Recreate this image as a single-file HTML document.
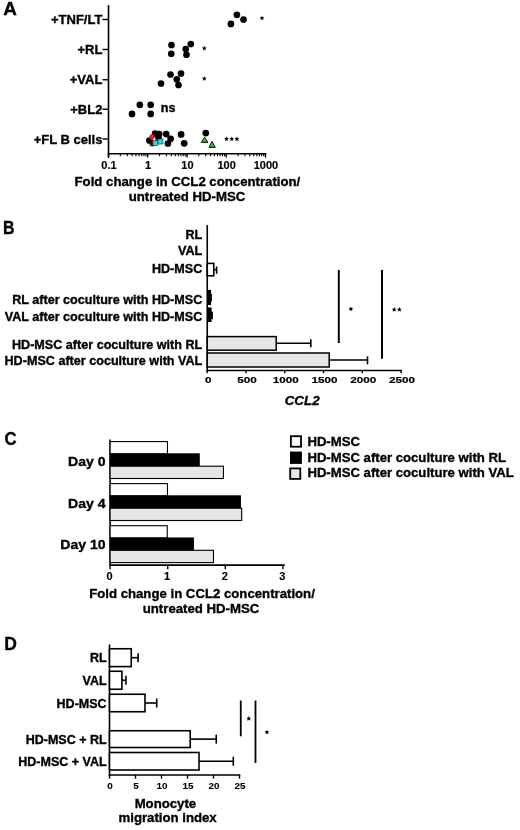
<!DOCTYPE html>
<html><head><meta charset="utf-8"><style>
html,body{margin:0;padding:0;background:#fff;width:520px;height:830px;overflow:hidden}
svg{display:block;will-change:transform;filter:blur(0.35px)}
text{font-family:"Liberation Sans",sans-serif;fill:#000;stroke:#000;stroke-width:0.35px;paint-order:stroke}
</style></head><body>
<svg width="520" height="830" viewBox="0 0 520 830">
<rect width="520" height="830" fill="#fff"/>
<text transform="translate(3.3,14.6) scale(1.02,1)" x="0" y="0" font-size="18.5" text-anchor="start" font-weight="bold" font-style="normal" >A</text>
<line x1="108.5" y1="5" x2="108.5" y2="157.6" stroke="#000" stroke-width="1.6"/>
<line x1="107.7" y1="153.75" x2="266.3" y2="153.75" stroke="#000" stroke-width="1.6"/>
<line x1="102.5" y1="19.5" x2="108.5" y2="19.5" stroke="#000" stroke-width="1.4"/>
<text x="102.4" y="24.1" font-size="13" text-anchor="end" font-weight="bold" font-style="normal" >+TNF/LT</text>
<line x1="102.5" y1="49.5" x2="108.5" y2="49.5" stroke="#000" stroke-width="1.4"/>
<text x="102.4" y="54.1" font-size="13" text-anchor="end" font-weight="bold" font-style="normal" >+RL</text>
<line x1="102.5" y1="79.75" x2="108.5" y2="79.75" stroke="#000" stroke-width="1.4"/>
<text x="102.4" y="84.35" font-size="13" text-anchor="end" font-weight="bold" font-style="normal" >+VAL</text>
<line x1="102.5" y1="109.25" x2="108.5" y2="109.25" stroke="#000" stroke-width="1.4"/>
<text x="102.4" y="113.85" font-size="13" text-anchor="end" font-weight="bold" font-style="normal" >+BL2</text>
<line x1="102.5" y1="139" x2="108.5" y2="139" stroke="#000" stroke-width="1.4"/>
<text x="102.4" y="143.6" font-size="13" text-anchor="end" font-weight="bold" font-style="normal" >+FL B cells</text>
<line x1="108.5" y1="153.75" x2="108.5" y2="157.6" stroke="#000" stroke-width="1.4"/>
<line x1="147.75" y1="153.75" x2="147.75" y2="157.6" stroke="#000" stroke-width="1.4"/>
<line x1="187.0" y1="153.75" x2="187.0" y2="157.6" stroke="#000" stroke-width="1.4"/>
<line x1="226.25" y1="153.75" x2="226.25" y2="157.6" stroke="#000" stroke-width="1.4"/>
<line x1="265.5" y1="153.75" x2="265.5" y2="157.6" stroke="#000" stroke-width="1.4"/>
<line x1="120.31542732981126" y1="153.75" x2="120.31542732981126" y2="156.3" stroke="#000" stroke-width="1.1"/>
<line x1="127.22700924774675" y1="153.75" x2="127.22700924774675" y2="156.3" stroke="#000" stroke-width="1.1"/>
<line x1="132.1308546596225" y1="153.75" x2="132.1308546596225" y2="156.3" stroke="#000" stroke-width="1.1"/>
<line x1="135.93457267018874" y1="153.75" x2="135.93457267018874" y2="156.3" stroke="#000" stroke-width="1.1"/>
<line x1="139.04243657755802" y1="153.75" x2="139.04243657755802" y2="156.3" stroke="#000" stroke-width="1.1"/>
<line x1="141.6700980705596" y1="153.75" x2="141.6700980705596" y2="156.3" stroke="#000" stroke-width="1.1"/>
<line x1="143.94628198943377" y1="153.75" x2="143.94628198943377" y2="156.3" stroke="#000" stroke-width="1.1"/>
<line x1="145.9540184954935" y1="153.75" x2="145.9540184954935" y2="156.3" stroke="#000" stroke-width="1.1"/>
<line x1="159.56542732981126" y1="153.75" x2="159.56542732981126" y2="156.3" stroke="#000" stroke-width="1.1"/>
<line x1="166.47700924774676" y1="153.75" x2="166.47700924774676" y2="156.3" stroke="#000" stroke-width="1.1"/>
<line x1="171.3808546596225" y1="153.75" x2="171.3808546596225" y2="156.3" stroke="#000" stroke-width="1.1"/>
<line x1="175.18457267018874" y1="153.75" x2="175.18457267018874" y2="156.3" stroke="#000" stroke-width="1.1"/>
<line x1="178.29243657755802" y1="153.75" x2="178.29243657755802" y2="156.3" stroke="#000" stroke-width="1.1"/>
<line x1="180.9200980705596" y1="153.75" x2="180.9200980705596" y2="156.3" stroke="#000" stroke-width="1.1"/>
<line x1="183.19628198943377" y1="153.75" x2="183.19628198943377" y2="156.3" stroke="#000" stroke-width="1.1"/>
<line x1="185.2040184954935" y1="153.75" x2="185.2040184954935" y2="156.3" stroke="#000" stroke-width="1.1"/>
<line x1="198.81542732981126" y1="153.75" x2="198.81542732981126" y2="156.3" stroke="#000" stroke-width="1.1"/>
<line x1="205.72700924774676" y1="153.75" x2="205.72700924774676" y2="156.3" stroke="#000" stroke-width="1.1"/>
<line x1="210.6308546596225" y1="153.75" x2="210.6308546596225" y2="156.3" stroke="#000" stroke-width="1.1"/>
<line x1="214.43457267018874" y1="153.75" x2="214.43457267018874" y2="156.3" stroke="#000" stroke-width="1.1"/>
<line x1="217.54243657755802" y1="153.75" x2="217.54243657755802" y2="156.3" stroke="#000" stroke-width="1.1"/>
<line x1="220.1700980705596" y1="153.75" x2="220.1700980705596" y2="156.3" stroke="#000" stroke-width="1.1"/>
<line x1="222.4462819894338" y1="153.75" x2="222.4462819894338" y2="156.3" stroke="#000" stroke-width="1.1"/>
<line x1="224.4540184954935" y1="153.75" x2="224.4540184954935" y2="156.3" stroke="#000" stroke-width="1.1"/>
<line x1="238.06542732981126" y1="153.75" x2="238.06542732981126" y2="156.3" stroke="#000" stroke-width="1.1"/>
<line x1="244.97700924774676" y1="153.75" x2="244.97700924774676" y2="156.3" stroke="#000" stroke-width="1.1"/>
<line x1="249.8808546596225" y1="153.75" x2="249.8808546596225" y2="156.3" stroke="#000" stroke-width="1.1"/>
<line x1="253.68457267018874" y1="153.75" x2="253.68457267018874" y2="156.3" stroke="#000" stroke-width="1.1"/>
<line x1="256.792436577558" y1="153.75" x2="256.792436577558" y2="156.3" stroke="#000" stroke-width="1.1"/>
<line x1="259.42009807055956" y1="153.75" x2="259.42009807055956" y2="156.3" stroke="#000" stroke-width="1.1"/>
<line x1="261.6962819894338" y1="153.75" x2="261.6962819894338" y2="156.3" stroke="#000" stroke-width="1.1"/>
<line x1="263.70401849549353" y1="153.75" x2="263.70401849549353" y2="156.3" stroke="#000" stroke-width="1.1"/>
<text transform="translate(108.9,169.3) scale(1.1,1)" x="0" y="0" font-size="10" text-anchor="middle" font-weight="bold" font-style="normal" style="stroke-width:0.15px">0.1</text>
<text transform="translate(148.15,169.3) scale(1.1,1)" x="0" y="0" font-size="10" text-anchor="middle" font-weight="bold" font-style="normal" style="stroke-width:0.15px">1</text>
<text transform="translate(187.4,169.3) scale(1.1,1)" x="0" y="0" font-size="10" text-anchor="middle" font-weight="bold" font-style="normal" style="stroke-width:0.15px">10</text>
<text transform="translate(226.65,169.3) scale(1.1,1)" x="0" y="0" font-size="10" text-anchor="middle" font-weight="bold" font-style="normal" style="stroke-width:0.15px">100</text>
<text transform="translate(265.9,169.3) scale(1.1,1)" x="0" y="0" font-size="10" text-anchor="middle" font-weight="bold" font-style="normal" style="stroke-width:0.15px">1000</text>
<text x="187.4" y="185.9" font-size="13.2" text-anchor="middle" font-weight="bold" font-style="normal" >Fold change in CCL2 concentration/</text>
<text x="187.0" y="200.9" font-size="13.2" text-anchor="middle" font-weight="bold" font-style="normal" >untreated HD-MSC</text>
<circle cx="230.9" cy="23.9" r="3.35" fill="#000"/>
<circle cx="236.9" cy="14.8" r="3.35" fill="#000"/>
<circle cx="243.5" cy="19.5" r="3.35" fill="#000"/>
<circle cx="171.5" cy="45" r="3.35" fill="#000"/>
<circle cx="171.25" cy="53.75" r="3.35" fill="#000"/>
<circle cx="185.75" cy="49" r="3.35" fill="#000"/>
<circle cx="186.5" cy="54.75" r="3.35" fill="#000"/>
<circle cx="190.75" cy="44" r="3.35" fill="#000"/>
<circle cx="170.5" cy="74.5" r="3.35" fill="#000"/>
<circle cx="181" cy="73.5" r="3.35" fill="#000"/>
<circle cx="176.75" cy="79.25" r="3.35" fill="#000"/>
<circle cx="161" cy="83.5" r="3.35" fill="#000"/>
<circle cx="178.5" cy="85" r="3.35" fill="#000"/>
<circle cx="132.0" cy="113.9" r="3.35" fill="#000"/>
<circle cx="139.8" cy="104.8" r="3.35" fill="#000"/>
<circle cx="150.7" cy="104.8" r="3.35" fill="#000"/>
<circle cx="150.7" cy="113.9" r="3.35" fill="#000"/>
<circle cx="155.1" cy="133.7" r="3.35" fill="#000"/>
<circle cx="159.15" cy="134.1" r="3.35" fill="#000"/>
<circle cx="158.5" cy="137.8" r="3.35" fill="#000"/>
<circle cx="149.4" cy="140.5" r="3.35" fill="#000"/>
<circle cx="166.2" cy="134.1" r="3.35" fill="#000"/>
<circle cx="170.6" cy="138.8" r="3.35" fill="#000"/>
<circle cx="167.9" cy="143.5" r="3.35" fill="#000"/>
<circle cx="181.1" cy="134.4" r="3.35" fill="#000"/>
<circle cx="184.2" cy="143.3" r="3.35" fill="#000"/>
<circle cx="205.8" cy="133.1" r="3.35" fill="#000"/>
<circle cx="151.9" cy="137.0" r="2.7" fill="#e0202a"/>
<circle cx="152.4" cy="143.5" r="3.0" fill="#300810"/>
<rect x="152.9" y="140.3" width="5" height="5" fill="#30d8d0" stroke="#0a3a3a" stroke-width="0.6"/>
<rect x="158.0" y="139.0" width="5" height="5" fill="#30d8d0" stroke="#0a3a3a" stroke-width="0.6"/>
<polygon points="204.6,137.2 201.3,142.4 208,142.4" fill="#22c43a" stroke="#000" stroke-width="0.9"/>
<polygon points="212,141.4 209,147.4 215.3,147.4" fill="#22c43a" stroke="#000" stroke-width="0.9"/>
<polygon points="262.00,15.65 262.68,17.27 264.43,17.41 263.09,18.56 263.50,20.26 262.00,19.35 260.50,20.26 260.91,18.56 259.57,17.41 261.32,17.27" fill="#000"/>
<polygon points="204.30,45.85 204.98,47.47 206.73,47.61 205.39,48.76 205.80,50.46 204.30,49.55 202.80,50.46 203.21,48.76 201.87,47.61 203.62,47.47" fill="#000"/>
<polygon points="204.30,76.05 204.98,77.67 206.73,77.81 205.39,78.96 205.80,80.66 204.30,79.75 202.80,80.66 203.21,78.96 201.87,77.81 203.62,77.67" fill="#000"/>
<polygon points="226.50,136.45 227.18,138.07 228.93,138.21 227.59,139.36 228.00,141.06 226.50,140.15 225.00,141.06 225.41,139.36 224.07,138.21 225.82,138.07" fill="#000"/>
<polygon points="231.70,136.45 232.38,138.07 234.13,138.21 232.79,139.36 233.20,141.06 231.70,140.15 230.20,141.06 230.61,139.36 229.27,138.21 231.02,138.07" fill="#000"/>
<polygon points="236.90,136.45 237.58,138.07 239.33,138.21 237.99,139.36 238.40,141.06 236.90,140.15 235.40,141.06 235.81,139.36 234.47,138.21 236.22,138.07" fill="#000"/>
<text x="160.8" y="111.9" font-size="12.6" text-anchor="start" font-weight="bold" font-style="normal" >ns</text>
<text transform="translate(2.9,233.7) scale(0.88,1)" x="0" y="0" font-size="18" text-anchor="start" font-weight="bold" font-style="normal" >B</text>
<line x1="207.25" y1="225" x2="207.25" y2="371.3" stroke="#000" stroke-width="1.6"/>
<line x1="206.45" y1="370.5" x2="402.05" y2="370.5" stroke="#000" stroke-width="1.6"/>
<text x="202.3" y="239.3" font-size="12.6" text-anchor="end" font-weight="bold" font-style="normal" >RL</text>
<text x="202.3" y="255.3" font-size="12.6" text-anchor="end" font-weight="bold" font-style="normal" >VAL</text>
<text x="202.3" y="273" font-size="12.6" text-anchor="end" font-weight="bold" font-style="normal" >HD-MSC</text>
<text x="202.3" y="303.8" font-size="12.6" text-anchor="end" font-weight="bold" font-style="normal" >RL after coculture with HD-MSC</text>
<text x="202.3" y="321.3" font-size="12.6" text-anchor="end" font-weight="bold" font-style="normal" >VAL after coculture with HD-MSC</text>
<text x="202.3" y="348.8" font-size="12.6" text-anchor="end" font-weight="bold" font-style="normal" >HD-MSC after coculture with RL</text>
<text x="202.3" y="365" font-size="12.6" text-anchor="end" font-weight="bold" font-style="normal" >HD-MSC after coculture with VAL</text>
<line x1="207.25" y1="370.5" x2="207.25" y2="373.3" stroke="#000" stroke-width="1.4"/>
<text transform="translate(208.15,382.9) scale(1.22,1)" x="0" y="0" font-size="9.6" text-anchor="middle" font-weight="bold" font-style="normal" style="stroke-width:0.2px">0</text>
<line x1="246.0" y1="370.5" x2="246.0" y2="373.3" stroke="#000" stroke-width="1.4"/>
<text transform="translate(246.9,382.9) scale(1.22,1)" x="0" y="0" font-size="9.6" text-anchor="middle" font-weight="bold" font-style="normal" style="stroke-width:0.2px">500</text>
<line x1="284.75" y1="370.5" x2="284.75" y2="373.3" stroke="#000" stroke-width="1.4"/>
<text transform="translate(285.65,382.9) scale(1.22,1)" x="0" y="0" font-size="9.6" text-anchor="middle" font-weight="bold" font-style="normal" style="stroke-width:0.2px">1000</text>
<line x1="323.5" y1="370.5" x2="323.5" y2="373.3" stroke="#000" stroke-width="1.4"/>
<text transform="translate(324.4,382.9) scale(1.22,1)" x="0" y="0" font-size="9.6" text-anchor="middle" font-weight="bold" font-style="normal" style="stroke-width:0.2px">1500</text>
<line x1="362.25" y1="370.5" x2="362.25" y2="373.3" stroke="#000" stroke-width="1.4"/>
<text transform="translate(363.15,382.9) scale(1.22,1)" x="0" y="0" font-size="9.6" text-anchor="middle" font-weight="bold" font-style="normal" style="stroke-width:0.2px">2000</text>
<line x1="401.0" y1="370.5" x2="401.0" y2="373.3" stroke="#000" stroke-width="1.4"/>
<text transform="translate(401.9,382.9) scale(1.22,1)" x="0" y="0" font-size="9.6" text-anchor="middle" font-weight="bold" font-style="normal" style="stroke-width:0.2px">2500</text>
<text x="302.2" y="404.7" font-size="13.4" text-anchor="middle" font-weight="bold" font-style="italic" >CCL2</text>
<rect x="207.25" y="263.4" width="6.5" height="12.4" fill="#fff" stroke="#000" stroke-width="1.6"/>
<line x1="213.75" y1="269.6" x2="216.6" y2="269.6" stroke="#000" stroke-width="1.5"/>
<line x1="216.6" y1="266.5" x2="216.6" y2="273.8" stroke="#000" stroke-width="1.6"/>
<rect x="207.25" y="289.9" width="3.8499999999999943" height="15.1" fill="#000"/>
<rect x="207.25" y="294" width="4.650000000000006" height="7.3" fill="#000"/>
<rect x="207.25" y="307.5" width="4.349999999999994" height="14.5" fill="#000"/>
<rect x="207.25" y="311.7" width="5.650000000000006" height="7.4" fill="#000"/>
<rect x="207.25" y="336.6" width="68.94999999999999" height="13.6" fill="#e6e6e6" stroke="#000" stroke-width="1.5"/>
<line x1="276.2" y1="343.3" x2="310.8" y2="343.3" stroke="#000" stroke-width="1.6"/>
<line x1="310.8" y1="339.3" x2="310.8" y2="347.3" stroke="#000" stroke-width="1.6"/>
<rect x="207.25" y="353" width="121.94999999999999" height="14" fill="#e6e6e6" stroke="#000" stroke-width="1.5"/>
<line x1="329.2" y1="360" x2="367.5" y2="360" stroke="#000" stroke-width="1.6"/>
<line x1="367.5" y1="356.3" x2="367.5" y2="364.3" stroke="#000" stroke-width="1.6"/>
<line x1="338.8" y1="270" x2="338.8" y2="343" stroke="#000" stroke-width="2"/>
<line x1="382" y1="270" x2="382" y2="358.8" stroke="#000" stroke-width="2"/>
<polygon points="350.90,306.45 351.58,308.07 353.33,308.21 351.99,309.36 352.40,311.06 350.90,310.15 349.40,311.06 349.81,309.36 348.47,308.21 350.22,308.07" fill="#000"/>
<polygon points="394.20,307.05 394.88,308.67 396.63,308.81 395.29,309.96 395.70,311.66 394.20,310.75 392.70,311.66 393.11,309.96 391.77,308.81 393.52,308.67" fill="#000"/>
<polygon points="399.40,307.05 400.08,308.67 401.83,308.81 400.49,309.96 400.90,311.66 399.40,310.75 397.90,311.66 398.31,309.96 396.97,308.81 398.72,308.67" fill="#000"/>
<text transform="translate(4.4,444.6) scale(0.9,1)" x="0" y="0" font-size="18.6" text-anchor="start" font-weight="bold" font-style="normal" >C</text>
<line x1="110.1" y1="439.5" x2="110.1" y2="565.9" stroke="#000" stroke-width="1.6"/>
<line x1="109.3" y1="565.1" x2="284.8" y2="565.1" stroke="#000" stroke-width="1.6"/>
<line x1="110.1" y1="565.1" x2="110.1" y2="569.3" stroke="#000" stroke-width="1.4"/>
<text x="109.5" y="579.7" font-size="11" text-anchor="middle" font-weight="bold" font-style="normal" style="stroke-width:0.15px">0</text>
<line x1="167.7" y1="565.1" x2="167.7" y2="569.3" stroke="#000" stroke-width="1.4"/>
<text x="167.1" y="579.7" font-size="11" text-anchor="middle" font-weight="bold" font-style="normal" style="stroke-width:0.15px">1</text>
<line x1="225.3" y1="565.1" x2="225.3" y2="569.3" stroke="#000" stroke-width="1.4"/>
<text x="224.70000000000002" y="579.7" font-size="11" text-anchor="middle" font-weight="bold" font-style="normal" style="stroke-width:0.15px">2</text>
<line x1="282.9" y1="565.1" x2="282.9" y2="569.3" stroke="#000" stroke-width="1.4"/>
<text x="282.29999999999995" y="579.7" font-size="11" text-anchor="middle" font-weight="bold" font-style="normal" style="stroke-width:0.15px">3</text>
<rect x="110.1" y="441.6" width="57.3696" height="12.3" fill="#fff" stroke="#000" stroke-width="1.1"/>
<rect x="110.1" y="453.90000000000003" width="89.10719999999999" height="12.3" fill="#000" stroke="#000" stroke-width="1.1"/>
<rect x="110.1" y="466.20000000000005" width="113.3568" height="12.3" fill="#e6e6e6" stroke="#000" stroke-width="1.1"/>
<text transform="translate(105.6,465.7) scale(1.05,1)" x="0" y="0" font-size="13.4" text-anchor="end" font-weight="bold" font-style="normal" >Day 0</text>
<rect x="110.1" y="483.6" width="57.3696" height="12.3" fill="#fff" stroke="#000" stroke-width="1.1"/>
<rect x="110.1" y="495.90000000000003" width="130.2912" height="12.3" fill="#000" stroke="#000" stroke-width="1.1"/>
<rect x="110.1" y="508.20000000000005" width="131.5584" height="12.3" fill="#e6e6e6" stroke="#000" stroke-width="1.1"/>
<text transform="translate(105.6,507.7) scale(1.05,1)" x="0" y="0" font-size="13.4" text-anchor="end" font-weight="bold" font-style="normal" >Day 4</text>
<rect x="110.1" y="525.7" width="57.1392" height="12.3" fill="#fff" stroke="#000" stroke-width="1.1"/>
<rect x="110.1" y="538.0" width="83.2896" height="12.3" fill="#000" stroke="#000" stroke-width="1.1"/>
<rect x="110.1" y="550.3000000000001" width="103.392" height="12.3" fill="#e6e6e6" stroke="#000" stroke-width="1.1"/>
<text transform="translate(105.6,548.6) scale(1.05,1)" x="0" y="0" font-size="13.4" text-anchor="end" font-weight="bold" font-style="normal" >Day 10</text>
<text x="202.0" y="598.1" font-size="13.2" text-anchor="middle" font-weight="bold" font-style="normal" >Fold change in CCL2 concentration/</text>
<text x="201.0" y="612.5" font-size="13.2" text-anchor="middle" font-weight="bold" font-style="normal" >untreated HD-MSC</text>
<rect x="290.9" y="436.2" width="10.1" height="10.5" fill="#fff" stroke="#000" stroke-width="1.8"/>
<text x="307.4" y="445.8" font-size="13.15" text-anchor="start" font-weight="bold" font-style="normal" >HD-MSC</text>
<rect x="290.9" y="452.5" width="10.1" height="10.5" fill="#000" stroke="#000" stroke-width="1.8"/>
<text x="307.4" y="461.5" font-size="13.15" text-anchor="start" font-weight="bold" font-style="normal" >HD-MSC after coculture with RL</text>
<rect x="290.2" y="468.4" width="10.1" height="10.5" fill="#e6e6e6" stroke="#000" stroke-width="1.8"/>
<text x="307.4" y="477.2" font-size="13.15" text-anchor="start" font-weight="bold" font-style="normal" >HD-MSC after coculture with VAL</text>
<text transform="translate(4.2,649.7) scale(0.97,1)" x="0" y="0" font-size="18" text-anchor="start" font-weight="bold" font-style="normal" >D</text>
<line x1="109.5" y1="644.4" x2="109.5" y2="775.8" stroke="#000" stroke-width="1.6"/>
<line x1="108.7" y1="775" x2="240.3" y2="775" stroke="#000" stroke-width="1.6"/>
<line x1="109.5" y1="775" x2="109.5" y2="778.6" stroke="#000" stroke-width="1.4"/>
<text x="110.1" y="788.7" font-size="9.9" text-anchor="middle" font-weight="bold" font-style="normal" style="stroke-width:0.1px">0</text>
<line x1="135.5" y1="775" x2="135.5" y2="778.6" stroke="#000" stroke-width="1.4"/>
<text x="136.1" y="788.7" font-size="9.9" text-anchor="middle" font-weight="bold" font-style="normal" style="stroke-width:0.1px">5</text>
<line x1="161.5" y1="775" x2="161.5" y2="778.6" stroke="#000" stroke-width="1.4"/>
<text x="162.1" y="788.7" font-size="9.9" text-anchor="middle" font-weight="bold" font-style="normal" style="stroke-width:0.1px">10</text>
<line x1="187.5" y1="775" x2="187.5" y2="778.6" stroke="#000" stroke-width="1.4"/>
<text x="188.1" y="788.7" font-size="9.9" text-anchor="middle" font-weight="bold" font-style="normal" style="stroke-width:0.1px">15</text>
<line x1="213.5" y1="775" x2="213.5" y2="778.6" stroke="#000" stroke-width="1.4"/>
<text x="214.1" y="788.7" font-size="9.9" text-anchor="middle" font-weight="bold" font-style="normal" style="stroke-width:0.1px">20</text>
<line x1="239.5" y1="775" x2="239.5" y2="778.6" stroke="#000" stroke-width="1.4"/>
<text x="240.1" y="788.7" font-size="9.9" text-anchor="middle" font-weight="bold" font-style="normal" style="stroke-width:0.1px">25</text>
<rect x="109.5" y="648.75" width="21.75" height="17.850000000000023" fill="#fff" stroke="#000" stroke-width="1.6"/>
<line x1="131.25" y1="657.675" x2="138.1" y2="657.675" stroke="#000" stroke-width="1.6"/>
<line x1="138.1" y1="653.175" x2="138.1" y2="662.175" stroke="#000" stroke-width="1.6"/>
<text x="106.6" y="662.175" font-size="12.5" text-anchor="end" font-weight="bold" font-style="normal" >RL</text>
<rect x="109.5" y="671.25" width="12.400000000000006" height="18.0" fill="#fff" stroke="#000" stroke-width="1.6"/>
<line x1="121.9" y1="680.25" x2="126" y2="680.25" stroke="#000" stroke-width="1.6"/>
<line x1="126" y1="675.75" x2="126" y2="684.75" stroke="#000" stroke-width="1.6"/>
<text x="106.6" y="684.75" font-size="12.5" text-anchor="end" font-weight="bold" font-style="normal" >VAL</text>
<rect x="109.5" y="694.25" width="35.5" height="17.5" fill="#fff" stroke="#000" stroke-width="1.6"/>
<line x1="145" y1="703.0" x2="156.75" y2="703.0" stroke="#000" stroke-width="1.6"/>
<line x1="156.75" y1="698.5" x2="156.75" y2="707.5" stroke="#000" stroke-width="1.6"/>
<text x="106.6" y="707.5" font-size="12.5" text-anchor="end" font-weight="bold" font-style="normal" >HD-MSC</text>
<rect x="109.5" y="730.75" width="80.69999999999999" height="16.75" fill="#fff" stroke="#000" stroke-width="1.6"/>
<line x1="190.2" y1="739.125" x2="216.25" y2="739.125" stroke="#000" stroke-width="1.6"/>
<line x1="216.25" y1="734.625" x2="216.25" y2="743.625" stroke="#000" stroke-width="1.6"/>
<text x="106.6" y="743.625" font-size="12.5" text-anchor="end" font-weight="bold" font-style="normal" >HD-MSC + RL</text>
<rect x="109.5" y="752.5" width="89.5" height="17.5" fill="#fff" stroke="#000" stroke-width="1.6"/>
<line x1="199" y1="761.25" x2="233.3" y2="761.25" stroke="#000" stroke-width="1.6"/>
<line x1="233.3" y1="756.75" x2="233.3" y2="765.75" stroke="#000" stroke-width="1.6"/>
<text x="106.6" y="765.75" font-size="12.5" text-anchor="end" font-weight="bold" font-style="normal" >HD-MSC + VAL</text>
<line x1="240.75" y1="700.5" x2="240.75" y2="736.3" stroke="#000" stroke-width="1.8"/>
<line x1="255.5" y1="700.5" x2="255.5" y2="763" stroke="#000" stroke-width="1.8"/>
<polygon points="248.75,716.05 249.43,717.67 251.18,717.81 249.84,718.96 250.25,720.66 248.75,719.75 247.25,720.66 247.66,718.96 246.32,717.81 248.07,717.67" fill="#000"/>
<polygon points="266.90,729.75 267.58,731.37 269.33,731.51 267.99,732.66 268.40,734.36 266.90,733.45 265.40,734.36 265.81,732.66 264.47,731.51 266.22,731.37" fill="#000"/>
<text x="165.4" y="807.7" font-size="13.2" text-anchor="middle" font-weight="bold" font-style="normal" >Monocyte</text>
<text x="167.6" y="821.7" font-size="13.2" text-anchor="middle" font-weight="bold" font-style="normal" >migration index</text>
</svg>
</body></html>
